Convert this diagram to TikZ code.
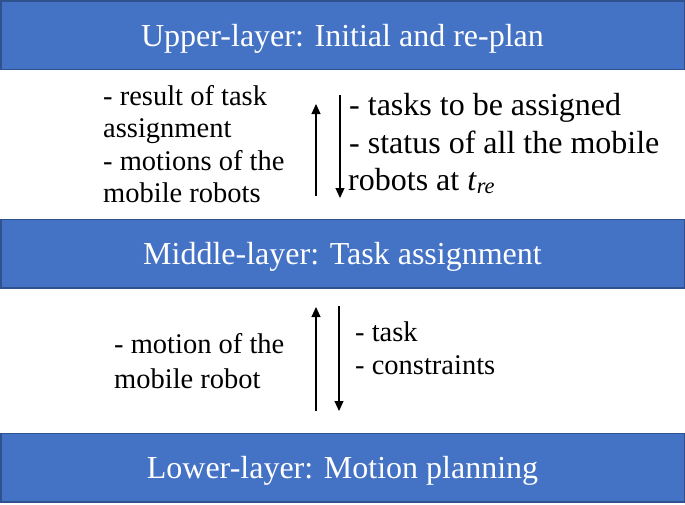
\documentclass[tikz,border=0pt]{standalone}
\usepackage{fontspec}
\setmainfont{Liberation Serif}
\usetikzlibrary{arrows.meta}
\definecolor{barfill}{HTML}{4472C4}
\definecolor{barline}{HTML}{2F528F}
\begin{document}
\begin{tikzpicture}[x=1pt,y=-1pt,
  bar/.style={draw=barline,line width=1.5pt,fill=barfill,minimum width=683.5pt,minimum height=68.5pt,
    inner sep=0pt,text=white,font=\fontsize{32}{38}\selectfont,text height=22pt,text depth=0pt},
  lbl/.style={anchor=base west,inner sep=0pt,font=\fontsize{28.5}{34}\selectfont},
  lblbig/.style={anchor=base west,inner sep=0pt,font=\fontsize{32}{38}\selectfont},
  flow/.style={line width=1.1pt,-{Triangle[length=10pt,width=9pt]}}]
\useasboundingbox (0,0) rectangle (685,504);
% bars
\node[bar] (upper) at (342.5,35) {Upper-layer: Initial and re-plan};
\node[bar] (middle) at (342.5,253.5) {Middle-layer: Task assignment};
\node[bar] (lower) at (342.5,467.5) {Lower-layer: Motion planning};
% upper labels
\node[lbl] (ul1) at (103,105) {- result of task};
\node[lbl] (ul2) at (103,137.5) {assignment};
\node[lbl] (ul3) at (103,170) {- motions of the};
\node[lbl] (ul4) at (103,202.5) {mobile robots};
\node[lblbig] (ur1) at (349,115) {- tasks to be assigned};
\node[lblbig] (ur2) at (349,153) {- status of all the mobile};
\node[lblbig] (ur3) at (348,190) {robots at \textit{t}\textsubscript{\textit{re}}};
% lower labels
\node[lbl] (ll1) at (114,353) {- motion of the};
\node[lbl] (ll2) at (114,388) {mobile robot};
\node[lbl] (lr1) at (355,341) {- task};
\node[lbl] (lr2) at (355,374) {- constraints};
% connector end points
\coordinate (a1s) at (316,196);
\coordinate (a1e) at (316,104);
\coordinate (a2s) at (340,95);
\coordinate (a2e) at (340,198);
\coordinate (a3s) at (316,411);
\coordinate (a3e) at (316,307);
\coordinate (a4s) at (339,306);
\coordinate (a4e) at (339,411);
\draw[flow] (a1s) -- (a1e);
\draw[flow] (a2s) -- (a2e);
\draw[flow] (a3s) -- (a3e);
\draw[flow] (a4s) -- (a4e);
\end{tikzpicture}
\end{document}
